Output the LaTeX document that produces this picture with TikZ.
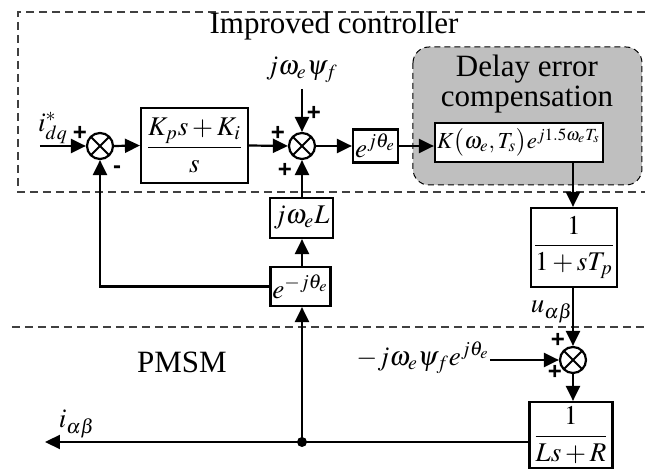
\documentclass[tikz,border=0pt]{standalone}
\usepackage{amsmath}
\usepackage{mathptmx}
\usepackage{fontspec}
\setmainfont{Liberation Serif}
\setsansfont{Liberation Sans}
\usetikzlibrary{arrows.meta, positioning, backgrounds}
\tikzset{
  block/.style={
    rectangle, draw, line width=1.1pt, fill=white,
    inner sep=1pt, text centered
  },
  sumnode/.style={
    circle, draw, line width=1.1pt, fill=white,
    minimum size=13pt, inner sep=0pt,
    path picture={
      \draw[line width=1pt]
        (path picture bounding box.north west) -- (path picture bounding box.south east)
        (path picture bounding box.north east) -- (path picture bounding box.south west);
    }
  },
  arrow/.style={-{Triangle[length=7.5pt, width=7pt]}, line width=1.1pt},
  region/.style={dash pattern=on 4pt off 2.5pt, line width=0.6pt, black!75},
  graybox/.style={densely dashed, line width=0.5pt, fill=gray!50, rounded corners=8pt},
  sign/.style={font=\sffamily\bfseries\fontsize{12}{12}\selectfont, inner sep=0pt},
  lbl/.style={inner sep=1pt},
  title/.style={font=\fontsize{15.5}{15}\selectfont, inner sep=0pt},
}

\begin{document}
\begin{tikzpicture}[x=0.5pt, y=-0.5pt, font=\fontsize{13.5}{15}\selectfont]
\useasboundingbox (0,0) rectangle (645,470);

%% ---- REGIONS ----
\draw[region] (645,12) -- (18,12) -- (18,192) -- (645,192);
\node[title] (ctrltitle) at (334,26) {Improved controller};
\draw[region] (12,327) -- (645,327);
\node[title] (pmsmtitle) at (182,362) {PMSM};

\draw[graybox] (413,47) rectangle (642,185);
\node[title, align=center] (dlabel) at (527,84) {Delay error\\compensation};

%% ---- CONTROLLER ----
\coordinate (iin) at (40,146);
\node[lbl] (iref) at (53,128) {$i_{dq}^{*}$};
\node[sumnode] (sum1) at (100,146) {};
\node[block, minimum width=53.5pt, minimum height=37.5pt] (pi) at (194.5,145.5) {$\dfrac{K_p s+K_i}{s}$};
\node[sumnode] (sum2) at (302,146) {};
\node[lbl] (psi) at (302,70) {$j\omega_e\psi_f$};
\coordinate (psiin) at (302,89);
\node[block, minimum width=22.5pt, minimum height=16.5pt] (rot) at (375.5,146) {$e^{j\theta_e}$};
\node[block, minimum width=84pt, minimum height=19.5pt, font=\fontsize{11.5}{14}\selectfont] (comp) at (519,142.5) {$K\bigl(\omega_e,T_s\bigr)e^{j1.5\omega_e T_s}$};

\draw[arrow] (iin) -- (sum1.west);
\draw[arrow] (sum1.east) -- (pi.west);
\draw[arrow] (pi.east) -- (sum2.west);
\draw[arrow] (psiin) -- (sum2.north);
\draw[arrow] (sum2.east) -- (rot.west);
\draw[arrow] (rot.east) -- (rot.east -| comp.west);

\node[sign] at (80,133) {+};
\node[sign] at (117,170) {-};
\node[sign] at (278,133) {+};
\node[sign] at (314,113) {+};
\node[sign] at (285,170) {+};

%% ---- DECOUPLING / FEEDBACK ----
\node[block, minimum width=31.5pt, minimum height=20pt] (jwl) at (301.5,218) {$j\omega_e L$};
\node[block, minimum width=25.5pt, minimum height=19.5pt] (irot) at (300.5,286.5) {$e^{-j\theta_e}$};
\draw[arrow] (jwl.north -| sum2) -- (sum2.south);
\draw[arrow] (irot.north -| sum2) -- (jwl.south -| sum2);
\draw[arrow] (irot.west) -| (sum1.south);

%% ---- INVERTER + PLANT ----
\node[block, minimum width=41pt, minimum height=39.5pt] (filt) at (574,247.5) {$\dfrac{1}{1+sT_p}$};
\node[lbl] (uab) at (552,312) {$u_{\alpha\beta}$};
\node[sumnode] (sum3) at (573,360) {};
\node[lbl] (dist) at (423,358) {$-j\omega_e\psi_f e^{j\theta_e}$};
\coordinate (distin) at (490,360);
\node[block, minimum width=41.5pt, minimum height=33pt] (plant) at (571,435) {$\dfrac{1}{Ls+R}$};

\draw[arrow] (comp.south -| sum3) -- (filt.north -| sum3);
\draw[arrow] (filt.south -| sum3) -- (sum3.north);
\draw[arrow] (distin) -- (sum3.west);
\draw[arrow] (sum3.south) -- (plant.north -| sum3);
\node[sign] at (558,340) {+};
\node[sign] at (555,372) {+};

%% ---- OUTPUT ----
\coordinate (junc) at (302,442);
\coordinate (iout) at (45,442);
\node[lbl] (iab) at (77,424) {$i_{\alpha\beta}$};
\draw[arrow] (plant.west |- junc) -- (iout);
\draw[arrow] (junc) -- (irot.south -| junc);
\fill (junc) circle (2.5pt);

\end{tikzpicture}
\end{document}
